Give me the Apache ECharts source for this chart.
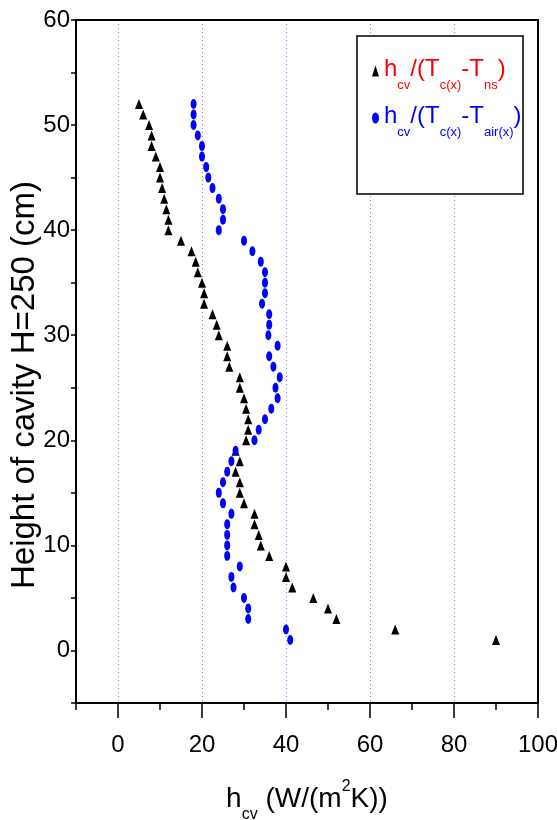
<!DOCTYPE html>
<html>
<head>
<meta charset="utf-8">
<script src="https://cdn.jsdelivr.net/npm/echarts@6/dist/echarts.min.js"></script>
<style>html,body{margin:0;padding:0;background:#fff}#main{width:557px;height:820px}</style>
</head>
<body>
<div id="main"></div>
<script>
// heights in the cavity (cm), top to bottom
var heights = [52,51,50,49,48,47,46,45,44,43,42,41,40,39,38,37,36,35,34,33,32,31,30,29,28,27,
               26,25,24,23,22,21,20,19,18,17,16,15,14,13,12,11,10,9,8,7,6,5,4,3,2,1];
// h_cv/(T_c(x)-T_ns)
var hNs = [5,6,7.4,8,8,9,10,10,10.5,11,11.5,12,12,15,17.5,18.5,19,20,20.5,20.5,22.5,23.5,24,26,26,26.5,
           29,29,30,30.5,31,31,30.5,28,29,28,29,29,30,32.5,32.5,33.5,34,36,40,40,41.5,46.5,50,52,66,90];
// h_cv/(T_c(x)-T_air(x))
var hAir = [18,18,18,19,20,20,21,21.5,22.5,24,25,25,24,30,32,34,35,35,35,34.3,36,36,35.8,38,36,37,
            38.5,37.5,38,36.5,35,33.5,32.5,28,27,26,25,24,25,27,26,26,26,26,29,27,27.5,30,31,31,40,41];
var majorX = [0,20,40,60,80,100];

var FONT = '"Liberation Sans", Arial, sans-serif';
var chart = echarts.init(document.getElementById('main'));

function pairs(vals){
    return vals.map(function(v,i){ return [v, heights[i]]; });
}

var legendText = {
    ns: '{r|h}{rs|cv}{r|/(T}{rs|c(x)}{r|-T}{rs|ns}{r|)}',
    air: '{b|h}{bs|cv}{b|/(T}{bs|c(x)}{b|-T}{bs|air(x)}{b|)}'
};

var option = {
    animation: false,
    backgroundColor: '#fff',
    grid: {left: 76, right: 19, top: 20, bottom: 117, outerBoundsMode: 'none'},
    xAxis: [{
        type: 'value', min: -10, max: 100, interval: 10, position: 'bottom',
        axisLine: {onZero: false, lineStyle: {color: '#000', width: 2}},
        axisTick: {length: 7, lineStyle: {color: '#000', width: 1.5}},
        axisLabel: {
            fontSize: 24, fontFamily: FONT, color: '#000', margin: 30,
            formatter: function(v){ return (v >= 0 && v % 20 === 0) ? String(v) : ''; }
        },
        splitLine: {show: false},
        name: '{m|h}{s|cv}{m| (W/(m}{p|2}{m|K))}',
        nameLocation: 'middle', nameGap: 76,
        nameTextStyle: {
            rich: {
                m: {fontSize: 28, fontFamily: FONT, color: '#000', lineHeight: 32, padding: [6,0,0,0], verticalAlign: 'top'},
                s: {fontSize: 16, fontFamily: FONT, color: '#000', lineHeight: 16, padding: [28,0,0,0], verticalAlign: 'top'},
                p: {fontSize: 16, fontFamily: FONT, color: '#000', lineHeight: 16, padding: [0,0,0,0], verticalAlign: 'top'}
            }
        }
    }, {
        // long ticks + dotted grid at the labelled values
        type: 'value', min: -10, max: 100, position: 'bottom',
        axisLine: {show: true, onZero: false, lineStyle: {color: '#000', width: 2}},
        axisTick: {show: true, customValues: majorX, length: 15, lineStyle: {color: '#000', width: 1.5}},
        axisLabel: {show: false},
        splitLine: {show: true, lineStyle: {color: '#8080ff', type: [1, 3], width: 1}}
    }, {
        type: 'value', min: -10, max: 100, position: 'top',
        axisLine: {onZero: false, lineStyle: {color: '#000', width: 2}},
        axisTick: {show: false}, axisLabel: {show: false}, splitLine: {show: false}
    }],
    yAxis: [{
        type: 'value', min: -5, max: 60, interval: 5, position: 'left',
        axisLine: {onZero: false, lineStyle: {color: '#000', width: 2}},
        axisTick: {length: 5, lineStyle: {color: '#000', width: 1.5}},
        axisLabel: {
            fontSize: 24, fontFamily: FONT, color: '#000', margin: 6,
            formatter: function(v){ return (v >= 0 && v % 10 === 0) ? String(v) : ''; }
        },
        splitLine: {show: false}
    }, {
        type: 'value', min: -5, max: 60, position: 'right',
        axisLine: {show: true, onZero: false, lineStyle: {color: '#000', width: 2}},
        axisTick: {show: false}, axisLabel: {show: false}, splitLine: {show: false}
    }],
    legend: {
        orient: 'vertical', left: 372, top: 57, padding: 0, itemGap: 12,
        itemWidth: 7, itemHeight: 11, symbolKeepAspect: false, z: 6,
        data: [
            {name: 'ns', icon: 'triangle'},
            {name: 'air', icon: 'path://M5,0A5,5,0,1,1,5,10A5,5,0,1,1,5,0Z'}
        ],
        formatter: function(name){ return legendText[name]; },
        textStyle: {
            rich: {
                r: {fontSize: 24, fontFamily: FONT, color: '#ff0000', lineHeight: 28, verticalAlign: 'top'},
                rs: {fontSize: 13, fontFamily: FONT, color: '#ff0000', lineHeight: 13, padding: [22,0,0,0], verticalAlign: 'top'},
                b: {fontSize: 24, fontFamily: FONT, color: '#0000ff', lineHeight: 28, verticalAlign: 'top'},
                bs: {fontSize: 13, fontFamily: FONT, color: '#0000ff', lineHeight: 13, padding: [22,0,0,0], verticalAlign: 'top'}
            }
        }
    },
    graphic: [{
        // legend frame
        type: 'rect', z: 5,
        shape: {x: 357, y: 36, width: 166, height: 158},
        style: {fill: '#fff', stroke: '#000', lineWidth: 1.5}
    }, {
        type: 'text', x: 25, y: 385, rotation: Math.PI / 2,
        style: {
            text: 'Height of cavity H=250 (cm)', fill: '#000',
            font: '33px ' + FONT, align: 'center', verticalAlign: 'middle',
            textAlign: 'center', textVerticalAlign: 'middle'
        }
    }],
    series: [{
        name: 'ns', type: 'scatter', symbol: 'triangle', symbolSize: [8, 10],
        itemStyle: {color: '#000', opacity: 1}, z: 2,
        data: pairs(hNs)
    }, {
        name: 'air', type: 'scatter', symbol: 'circle', symbolSize: [6, 10],
        itemStyle: {color: '#0000ff', opacity: 1}, z: 3,
        data: pairs(hAir)
    }]
};
chart.setOption(option);
</script>
</body>
</html>
